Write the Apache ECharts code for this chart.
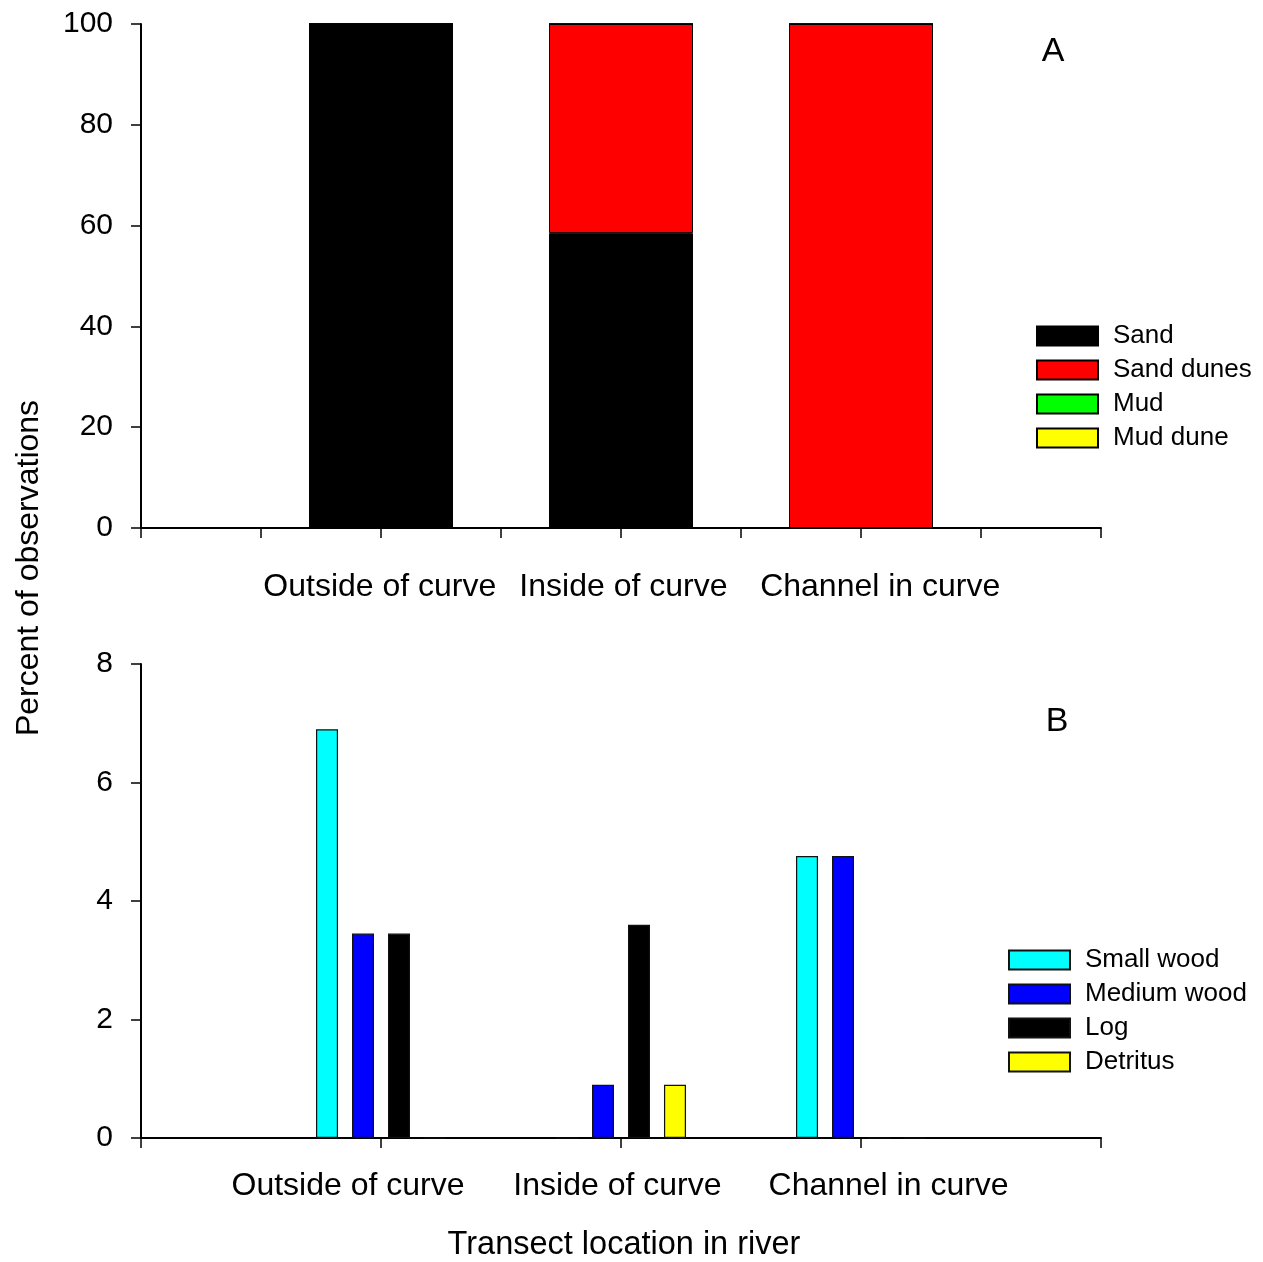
<!DOCTYPE html>
<html>
<head>
<meta charset="utf-8">
<script src="https://cdn.jsdelivr.net/npm/echarts@6/dist/echarts.min.js"></script>
<style>
html,body{margin:0;padding:0;background:#fff;}
#chart{width:1263px;height:1262px;}
</style>
</head>
<body>
<div id="chart"></div>
<script>
// ---- Data ----
const categories = ['Outside of curve', 'Inside of curve', 'Channel in curve'];

// Panel A (stacked percent of observations)
const substrateNames = ['Sand', 'Sand dunes', 'Mud', 'Mud dune'];
const sand      = [100, 58.5, 0];
const sandDunes = [0, 41.5, 100];
const mud       = [0, 0, 0];
const mudDune   = [0, 0, 0];
const topTicks  = [0, 20, 40, 60, 80, 100];

// Panel B (grouped percent of observations)
const debrisNames = ['Small wood', 'Medium wood', 'Log', 'Detritus'];
const smallWood  = [6.9, 0, 4.76];
const mediumWood = [3.45, 0.9, 4.76];
const logWood    = [3.45, 3.6, 0];
const detritus   = [0, 0.9, 0];
const bottomTicks = [0, 2, 4, 6, 8];

// ---- Build ----
const FONT = "'Liberation Sans', Arial, sans-serif";
const SLOTS = 9;                         // axis slots 0..8, categories sit on 2, 4, 6
const catX = i => 2 * (i + 1);
const slotNames = Array.from({ length: SLOTS }, (_, k) => String(k));
const toSlots = arr => {
  const out = new Array(SLOTS).fill(null);
  arr.forEach((v, i) => { out[catX(i)] = v; });
  return out;
};
const toPts = arr => arr.map((v, i) => [catX(i), v]);
const catFormatter = v => categories[Math.round(v / 2) - 1] || '';

const axisLineStyle = { color: '#000', width: 2 };
const tickStyle = { color: '#000', width: 1.5 };

const topColors = ['#000000', '#ff0000', '#00ff00', '#ffff00'];
const topData = [sand, sandDunes, mud, mudDune];
const botColors = ['#00ffff', '#0000ff', '#000000', '#ffff00'];
const botData = [smallWood, mediumWood, logWood, detritus];

const series = [];
substrateNames.forEach((n, k) => {
  series.push({
    name: n, type: 'bar', xAxisIndex: 0, yAxisIndex: 0, stack: 'A',
    barWidth: 144,
    data: toSlots(topData[k]),
    itemStyle: { color: topColors[k], borderColor: '#000', borderWidth: 1 },
    emphasis: { disabled: true },
    animation: false
  });
});
debrisNames.forEach((n, k) => {
  series.push({
    name: n, type: 'bar', xAxisIndex: 1, yAxisIndex: 1,
    barWidth: 22, barGap: '63.6%',
    data: toPts(botData[k]),
    itemStyle: { color: botColors[k], borderColor: '#111', borderWidth: 1.2 },
    emphasis: { disabled: true },
    animation: false
  });
});

const legendCommon = {
  orient: 'vertical', itemWidth: 61, itemHeight: 19, itemGap: 8, icon: 'rect',
  selectedMode: false, padding: 0,
  textStyle: { fontSize: 26, fontFamily: FONT, color: '#000', padding: [0, 0, 0, 10] }
};

const yLabel = {
  fontSize: 30, fontFamily: FONT, color: '#000', margin: 28, padding: [4, 0, 0, 0]
};

const option = {
  backgroundColor: '#fff',
  animation: false,
  textStyle: { fontFamily: FONT, color: '#000' },
  grid: [
    { left: 141, top: 24, width: 960, height: 504, outerBoundsMode: 'none', containLabel: false },
    { left: 141, top: 664, width: 960, height: 474, outerBoundsMode: 'none', containLabel: false }
  ],
  xAxis: [
    {
      type: 'category', gridIndex: 0, data: slotNames, boundaryGap: false, position: 'bottom',
      axisLine: { show: true, onZero: false, lineStyle: axisLineStyle },
      axisTick: { show: true, length: 10, interval: 0, lineStyle: tickStyle },
      splitLine: { show: false },
      axisLabel: { show: false }
    },
    {
      type: 'value', gridIndex: 1, min: 0, max: 8, interval: 2,
      axisLine: { show: true, onZero: false, lineStyle: axisLineStyle },
      axisTick: { show: true, length: 10, inside: false, lineStyle: tickStyle },
      splitLine: { show: false },
      axisLabel: {
        customValues: [1.725, 3.97, 6.23],
        formatter: catFormatter,
        fontSize: 32, fontFamily: FONT, color: '#000', margin: 32
      }
    },
    {
      // label carrier for panel A (same 0..8 span as the category slots)
      type: 'value', gridIndex: 0, min: 0, max: 8, position: 'bottom',
      axisLine: { show: false }, axisTick: { show: false }, splitLine: { show: false },
      axisLabel: {
        customValues: [1.99, 4.02, 6.16],
        formatter: catFormatter,
        fontSize: 32, fontFamily: FONT, color: '#000', margin: 43
      }
    }
  ],
  yAxis: [
    {
      type: 'value', gridIndex: 0, min: 0, max: 100, interval: 20,
      axisLine: { show: true, onZero: false, lineStyle: axisLineStyle },
      axisTick: { show: true, length: 10, lineStyle: tickStyle },
      splitLine: { show: false },
      axisLabel: Object.assign({ customValues: topTicks }, yLabel)
    },
    {
      type: 'value', gridIndex: 1, min: 0, max: 8, interval: 2,
      axisLine: { show: true, onZero: false, lineStyle: axisLineStyle },
      axisTick: { show: true, length: 10, lineStyle: tickStyle },
      splitLine: { show: false },
      axisLabel: Object.assign({ customValues: bottomTicks }, yLabel)
    }
  ],
  legend: [
    Object.assign({}, legendCommon, { data: substrateNames, left: 1036, top: 323 }),
    Object.assign({}, legendCommon, { data: debrisNames, left: 1008, top: 947 })
  ],
  graphic: [
    { type: 'text', x: 29, y: 568, rotation: Math.PI / 2,
      style: { text: 'Percent of observations', fontSize: 32, fontFamily: FONT, fill: '#000', textAlign: 'center', textVerticalAlign: 'middle' } },
    { type: 'text', x: 624, y: 1245,
      style: { text: 'Transect location in river', fontSize: 32.5, fontFamily: FONT, fill: '#000', textAlign: 'center', textVerticalAlign: 'middle' } },
    { type: 'text', x: 1053, y: 52,
      style: { text: 'A', fontSize: 34, fontFamily: FONT, fill: '#000', textAlign: 'center', textVerticalAlign: 'middle' } },
    { type: 'text', x: 1057, y: 722,
      style: { text: 'B', fontSize: 34, fontFamily: FONT, fill: '#000', textAlign: 'center', textVerticalAlign: 'middle' } }
  ],
  series: series
};

const chart = echarts.init(document.getElementById('chart'), null, { renderer: 'canvas' });
chart.setOption(option);
</script>
</body>
</html>
